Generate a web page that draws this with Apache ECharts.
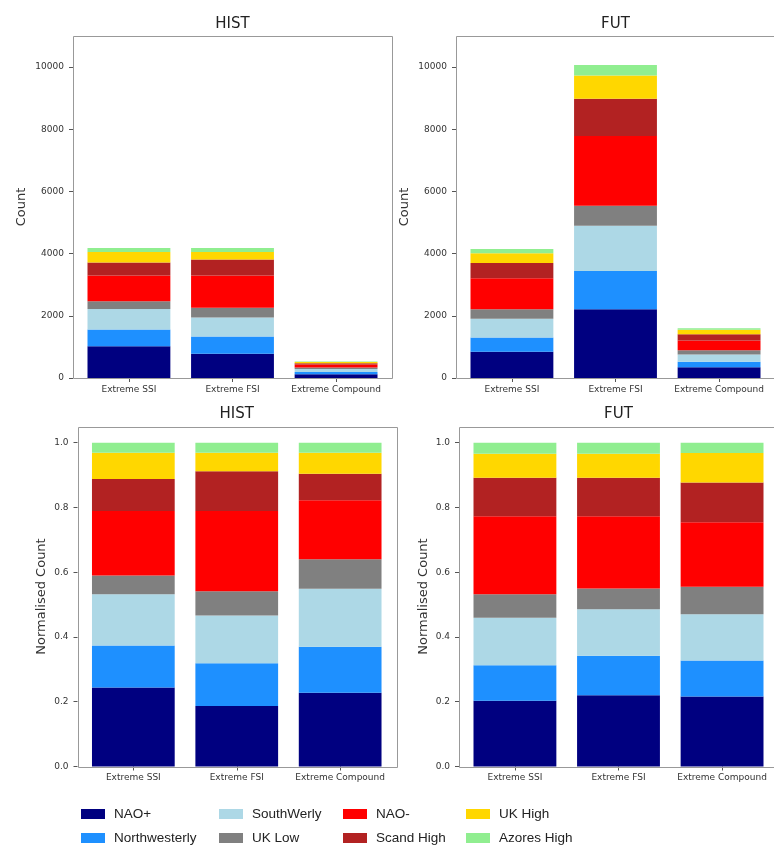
<!DOCTYPE html>
<html>
<head>
<meta charset="utf-8">
<script src="https://cdn.jsdelivr.net/npm/echarts@6/dist/echarts.min.js"></script>
<style>
  html, body { margin: 0; padding: 0; background: #fff; }
  #chart { width: 774px; height: 849px; }
</style>
</head>
<body>
<div id="chart"></div>
<script>
const categories = ['Extreme SSI', 'Extreme FSI', 'Extreme Compound'];
const regimes = ['NAO+', 'Northwesterly', 'SouthWerly', 'UK Low', 'NAO-', 'Scand High', 'UK High', 'Azores High'];
const countTicks = [0, 2000, 4000, 6000, 8000, 10000];
const fracTicks = [0.0, 0.2, 0.4, 0.6, 0.8, 1.0];

// counts per regime (same order as regimes)
const histCountSSI = [1020, 543, 660, 242, 832, 414, 339, 130];
const histCountFSI = [782, 552, 614, 314, 1037, 514, 238, 130];
const histCountCompound = [121, 75, 95, 48, 96, 43, 35, 17];
const futCountSSI = [842, 457, 606, 303, 1000, 494, 307, 141];
const futCountFSI = [2215, 1229, 1450, 644, 2246, 1198, 745, 343];
const futCountCompound = [346, 178, 229, 136, 318, 197, 146, 50];

// normalised counts per regime
const histFracSSI = [0.244, 0.130, 0.158, 0.058, 0.199, 0.099, 0.081, 0.031];
const histFracFSI = [0.187, 0.132, 0.147, 0.075, 0.248, 0.123, 0.057, 0.031];
const histFracCompound = [0.228, 0.142, 0.179, 0.091, 0.182, 0.082, 0.065, 0.031];
const futFracSSI = [0.203, 0.110, 0.146, 0.073, 0.241, 0.119, 0.074, 0.034];
const futFracFSI = [0.220, 0.122, 0.144, 0.064, 0.223, 0.119, 0.074, 0.034];
const futFracCompound = [0.216, 0.111, 0.143, 0.085, 0.199, 0.123, 0.091, 0.032];

const regimeColors = ['#000080', '#1e90ff', '#add8e6', '#808080', '#ff0000', '#b22222', '#ffd700', '#90ee90'];

const FONT = 'DejaVu Sans';

const panels = [
  { title: 'HIST', yName: 'Count', values: [histCountSSI, histCountFSI, histCountCompound],
    frame: { x: 73, y: 36, w: 319, h: 342 }, max: 11000, interval: 2000, nameGap: 45, ticks: countTicks },
  { title: 'FUT', yName: 'Count', values: [futCountSSI, futCountFSI, futCountCompound],
    frame: { x: 456, y: 36, w: 319, h: 342 }, max: 11000, interval: 2000, nameGap: 45, ticks: countTicks },
  { title: 'HIST', yName: 'Normalised Count', values: [histFracSSI, histFracFSI, histFracCompound],
    frame: { x: 77.5, y: 426.5, w: 318.5, h: 340 }, max: 1.05, interval: 0.2, nameGap: 29, ticks: fracTicks },
  { title: 'FUT', yName: 'Normalised Count', values: [futFracSSI, futFracFSI, futFracCompound],
    frame: { x: 459, y: 426.5, w: 319, h: 340 }, max: 1.05, interval: 0.2, nameGap: 29, ticks: fracTicks },
];

function gridFor(frame) {
  const unit = frame.w / 3.08;
  return { left: frame.x + 0.04 * unit, top: frame.y, width: 3 * unit, height: frame.h };
}

const grids = panels.map((p) => gridFor(p.frame));

const xAxes = panels.map((p, i) => ({
  type: 'category',
  gridIndex: i,
  data: categories,
  axisLine: { show: false },
  axisTick: { show: true, alignWithLabel: true, length: 4, lineStyle: { color: '#555' } },
  axisLabel: { fontFamily: FONT, fontSize: 9, color: '#333', margin: 7, interval: 0 },
}));

const yAxes = panels.map((p, i) => ({
  type: 'value',
  gridIndex: i,
  min: 0,
  max: p.max,
  interval: p.interval,
  offset: grids[i].left - p.frame.x,
  name: p.yName,
  nameLocation: 'middle',
  nameGap: p.nameGap,
  nameTextStyle: { fontFamily: FONT, fontSize: 13, color: '#333' },
  axisLine: { show: false },
  axisTick: { show: true, length: 4, lineStyle: { color: '#555' } },
  splitLine: { show: false },
  axisLabel: {
    fontFamily: FONT, fontSize: 9, color: '#333', margin: 9, showMaxLabel: false,
    formatter: (v) => (p.ticks.some((t) => Math.abs(t - v) < 1e-9)
      ? (p.max < 2 ? v.toFixed(1) : String(v)) : ''),
  },
}));

const series = [];
regimes.forEach((name, r) => {
  panels.forEach((p, gi) => {
    series.push({
      name,
      type: 'bar',
      xAxisIndex: gi,
      yAxisIndex: gi,
      stack: 'panel' + gi,
      barWidth: '80%',
      data: p.values.map((arr) => arr[r]),
      itemStyle: { color: regimeColors[r] },
      emphasis: { disabled: true },
    });
  });
});

// legend: 4 columns x 2 rows, filled column by column
const legendCols = [81, 219, 343, 466];
const legendRows = [806, 830];
const legends = regimes.map((name, r) => ({
  orient: 'horizontal',
  left: legendCols[Math.floor(r / 2)],
  top: legendRows[r % 2],
  padding: 0,
  itemWidth: 24,
  itemHeight: 10,
  icon: 'rect',
  selectedMode: false,
  data: [name],
  textStyle: { fontFamily: 'Liberation Sans', fontSize: 13.5, lineHeight: 16, color: '#222', padding: [0, 0, 0, 4] },
}));

const graphics = [];
panels.forEach((p) => {
  const f = p.frame;
  graphics.push({
    type: 'rect',
    silent: true,
    z: 100,
    shape: { x: Math.round(f.x) + 0.5, y: Math.round(f.y) + 0.5, width: Math.round(f.w), height: Math.round(f.h) },
    style: { fill: null, stroke: '#999', lineWidth: 1 },
  });
  graphics.push({
    type: 'text',
    silent: true,
    x: f.x + f.w / 2,
    y: f.y - 12,
    style: { text: p.title, fontFamily: FONT, fontSize: 15, fill: '#222', align: 'center', verticalAlign: 'middle' },
  });
});

const chart = echarts.init(document.getElementById('chart'), null, { renderer: 'canvas' });
chart.setOption({
  animation: false,
  backgroundColor: '#ffffff',
  grid: grids,
  xAxis: xAxes,
  yAxis: yAxes,
  legend: legends,
  series,
  graphic: graphics,
});
</script>
</body>
</html>
